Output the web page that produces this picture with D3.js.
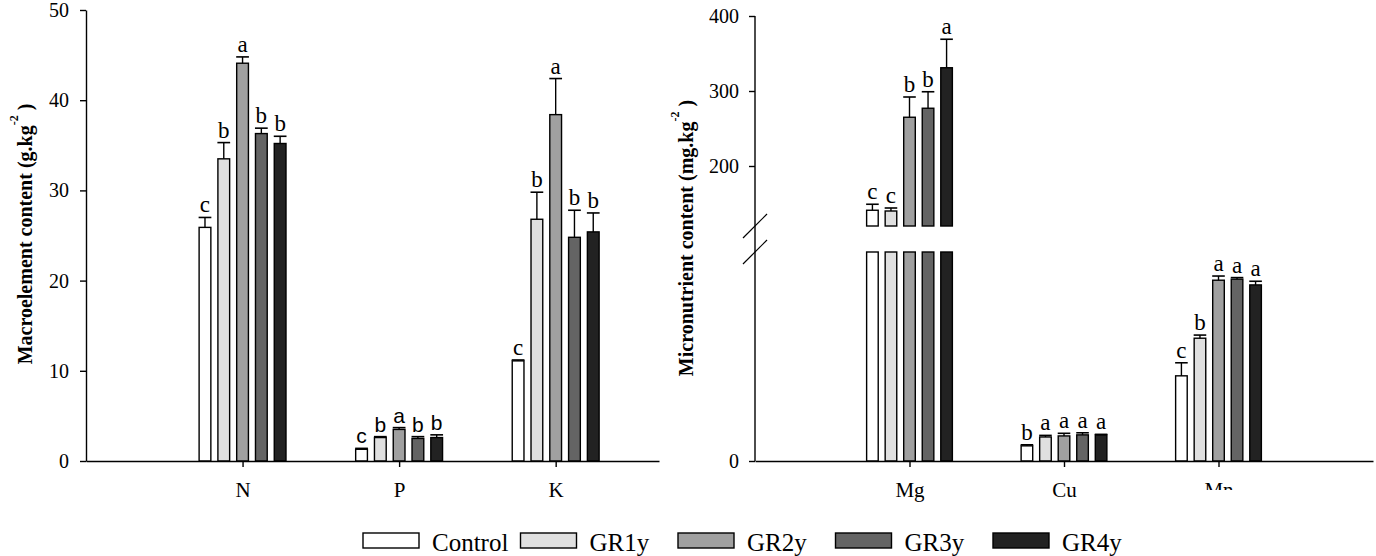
<!DOCTYPE html>
<html>
<head>
<meta charset="utf-8">
<script src="https://cdnjs.cloudflare.com/ajax/libs/d3/7.8.5/d3.min.js"></script>
<style>
  body { margin: 0; background: #fff; }
  svg { display: block; font-family: "Liberation Serif", "Times New Roman", serif; }
</style>
</head>
<body>
<svg id="chart" width="1376" height="556"></svg>
<script>
var treatments = ['Control', 'GR1y', 'GR2y', 'GR3y', 'GR4y']
var fills = ['#ffffff', '#e0e0e0', '#a0a0a0', '#646464', '#222222']

// macroelements, g.kg-2
var macroNames = ['N', 'P', 'K']
var macroMeans = [
  [25.9, 33.5, 44.1, 36.3, 35.2],
  [1.3, 2.6, 3.5, 2.5, 2.6],
  [11.1, 26.8, 38.4, 24.8, 25.4]
]
var macroErrors = [
  [1.1, 1.8, 0.7, 0.6, 0.8],
  [0.1, 0.1, 0.2, 0.2, 0.3],
  [0.1, 3.0, 4.0, 3.0, 2.1]
]
var macroLetters = [
  ['c', 'b', 'a', 'b', 'b'],
  ['c', 'b', 'a', 'b', 'b'],
  ['c', 'b', 'a', 'b', 'b']
]
var macroTicks = [0, 10, 20, 30, 40, 50]

// micronutrients, mg.kg-2
var microNames = ['Mg', 'Cu', 'Mn']
var microMeans = [
  [141, 140, 265, 277, 331],
  [2.9, 4.6, 4.8, 5.0, 5.0],
  [16.3, 23.5, 34.6, 34.8, 33.7]
]
var microErrors = [
  [8, 4, 27, 22, 38],
  [0.2, 0.3, 0.5, 0.4, 0.1],
  [2.5, 0.6, 0.8, 0.3, 0.7]
]
var microLetters = [
  ['c', 'c', 'b', 'b', 'a'],
  ['b', 'a', 'a', 'a', 'a'],
  ['c', 'b', 'a', 'a', 'a']
]
var microLowerTicks = [0]
var microUpperTicks = [200, 300, 400]

var sansLetterGroups = ['P']

var svg = d3.select('#chart')

var color = d3.scaleOrdinal().domain(treatments).range(fills)
var inner = d3.scaleBand()
  .domain(treatments)
  .range([-0.3, 0.3])
  .paddingInner(0.375)
  .paddingOuter(0.1875)

function rows(names, means, errors, letters) {
  var out = []
  names.forEach(function(n, i) {
    treatments.forEach(function(t, j) {
      out.push({
        group: i + 1,
        name: n,
        treatment: t,
        mean: means[i][j],
        err: errors[i][j],
        letter: letters[i][j]
      })
    })
  })
  return out
}

function drawBars(g, data, x, y, lo, hi) {
  var w = x(inner.bandwidth()) - x(0)
  g.selectAll(null)
    .data(data.filter(function(d) { return d.mean > lo }))
    .enter()
    .append('rect')
    .attr('x', function(d) { return x(d.group + inner(d.treatment)) })
    .attr('width', w)
    .attr('y', function(d) { return y(Math.min(d.mean, hi)) })
    .attr('height', function(d) { return y(lo) - y(Math.min(d.mean, hi)) })
    .attr('fill', function(d) { return color(d.treatment) })
    .attr('stroke', '#000')
    .attr('stroke-width', 1.4)
}

function drawErrors(g, data, x, y, lo, hi) {
  var w = x(inner.bandwidth()) - x(0)
  var cx = function(d) { return x(d.group + inner(d.treatment)) + w / 2 }
  var shown = data.filter(function(d) { return d.mean >= lo && d.mean <= hi })

  g.selectAll(null).data(shown).enter()
    .append('line')
    .attr('x1', cx).attr('x2', cx)
    .attr('y1', function(d) { return y(d.mean) })
    .attr('y2', function(d) { return y(d.mean + d.err) })
    .attr('stroke', '#000')
    .attr('stroke-width', 1.4)

  g.selectAll(null).data(shown).enter()
    .append('line')
    .attr('x1', function(d) { return cx(d) - w / 2 - 0.5 })
    .attr('x2', function(d) { return cx(d) + w / 2 + 0.5 })
    .attr('y1', function(d) { return y(d.mean + d.err) })
    .attr('y2', function(d) { return y(d.mean + d.err) })
    .attr('stroke', '#000')
    .attr('stroke-width', 1.6)

  g.selectAll(null).data(shown).enter()
    .append('text')
    .attr('x', cx)
    .attr('y', function(d) { return y(d.mean + d.err) - 5 })
    .attr('text-anchor', 'middle')
    .attr('font-size', function(d) { return sansLetterGroups.indexOf(d.name) >= 0 ? 21 : 23 })
    .attr('font-family', function(d) {
      return sansLetterGroups.indexOf(d.name) >= 0 ? '"Liberation Sans", Arial, sans-serif' : null
    })
    .text(function(d) { return d.letter })
}

function styleAxis(g) {
  g.selectAll('path, line').attr('stroke', '#000').attr('stroke-width', 1.4)
  g.selectAll('text')
    .attr('font-family', '"Liberation Serif", "Times New Roman", serif')
    .attr('font-size', 20)
    .attr('fill', '#000')
}

function yTitle(cx, cy, label) {
  var t = svg.append('text')
    .attr('transform', 'translate(' + cx + ',' + cy + ') rotate(-90)')
    .attr('text-anchor', 'middle')
    .attr('font-weight', 'bold')
    .attr('font-size', 20)
  t.append('tspan').text(label)
  t.append('tspan').attr('dy', -14).attr('font-size', 12).text('-2')
  t.append('tspan').attr('dy', 14).text(' )')
}

// ---- left panel: macroelements
var macro = rows(macroNames, macroMeans, macroErrors, macroLetters)
var x1 = d3.scaleLinear().domain([0, 3.66]).range([86, 659])
var y1 = d3.scaleLinear().domain([0, 50]).range([461, 10])

var left = svg.append('g')
drawBars(left, macro, x1, y1, 0, 50)
drawErrors(left, macro, x1, y1, 0, 50)

svg.append('g')
  .attr('transform', 'translate(' + x1(0) + ',0)')
  .call(d3.axisLeft(y1).tickValues(macroTicks).tickSize(6).tickSizeOuter(0).tickPadding(11))
  .call(styleAxis)

svg.append('g')
  .attr('transform', 'translate(0,' + y1(0) + ')')
  .call(d3.axisBottom(x1)
    .tickValues([1, 2, 3])
    .tickFormat(function(d) { return macroNames[d - 1] })
    .tickSize(6).tickSizeOuter(0).tickPadding(15))
  .call(styleAxis)
  .call(function(g) { g.selectAll('.tick text').attr('font-size', 21) })

yTitle(32, 234, 'Macroelement content (g.kg')

// ---- right panel: micronutrients, broken axis
var micro = rows(microNames, microMeans, microErrors, microLetters)
var x2 = d3.scaleLinear().domain([0, 4]).range([755, 1373])
var y2low = d3.scaleLinear().domain([0, 40]).range([461, 252])
var y2high = d3.scaleLinear().domain([120, 400]).range([226, 16])

var right = svg.append('g')
drawBars(right, micro, x2, y2low, 0, 40)
drawBars(right, micro, x2, y2high, 120, 400)
drawErrors(right, micro, x2, y2low, 0, 40)
drawErrors(right, micro, x2, y2high, 120, 400)

svg.append('line')
  .attr('x1', x2(0)).attr('x2', x2(0))
  .attr('y1', y2high(400)).attr('y2', y2low(0))
  .attr('stroke', '#000')
  .attr('stroke-width', 1.4)

svg.append('g')
  .attr('transform', 'translate(' + x2(0) + ',0)')
  .call(d3.axisLeft(y2low).tickValues(microLowerTicks).tickSize(6).tickSizeOuter(0).tickPadding(10))
  .call(styleAxis)
  .call(function(g) { g.select('.domain').remove() })

svg.append('g')
  .attr('transform', 'translate(' + x2(0) + ',0)')
  .call(d3.axisLeft(y2high).tickValues(microUpperTicks).tickSize(6).tickSizeOuter(0).tickPadding(10))
  .call(styleAxis)
  .call(function(g) { g.select('.domain').remove() })

// break marks
var breaks = [y2high(120), y2low(40)]
svg.selectAll(null).data(breaks).enter()
  .append('line')
  .attr('x1', x2(0) - 12).attr('x2', x2(0) + 12)
  .attr('y1', function(d) { return d + 12 })
  .attr('y2', function(d) { return d - 12 })
  .attr('stroke', '#000')
  .attr('stroke-width', 1.2)

var xAxis2 = svg.append('g')
  .attr('transform', 'translate(0,' + y2low(0) + ')')
  .call(d3.axisBottom(x2)
    .tickValues([1, 2, 3])
    .tickFormat(function(d) { return microNames[d - 1] })
    .tickSize(6).tickSizeOuter(0).tickPadding(15))
  .call(styleAxis)
  .call(function(g) { g.selectAll('.tick text').attr('font-size', 21) })

// the last category label is cut off in the source figure
svg.append('clipPath')
  .attr('id', 'labelClip')
  .append('rect')
  .attr('x', -60).attr('y', -10)
  .attr('width', 120).attr('height', 490 - y2low(0) + 10)
xAxis2.selectAll('.tick text')
  .filter(function(d) { return d === 3 })
  .attr('clip-path', 'url(#labelClip)')

yTitle(693, 238, 'Micronutrient content (mg.kg')

// ---- legend
var lx = d3.scalePoint().domain(treatments).range([363, 993])
var legend = svg.append('g')
legend.selectAll(null).data(treatments).enter()
  .append('rect')
  .attr('x', function(d) { return lx(d) })
  .attr('y', 533)
  .attr('width', 56)
  .attr('height', 15)
  .attr('fill', function(d) { return color(d) })
  .attr('stroke', '#000')
  .attr('stroke-width', 1.4)
legend.selectAll(null).data(treatments).enter()
  .append('text')
  .attr('x', function(d) { return lx(d) + 69 })
  .attr('y', 551)
  .attr('font-size', 25)
  .text(function(d) { return d })
</script>
</body>
</html>
